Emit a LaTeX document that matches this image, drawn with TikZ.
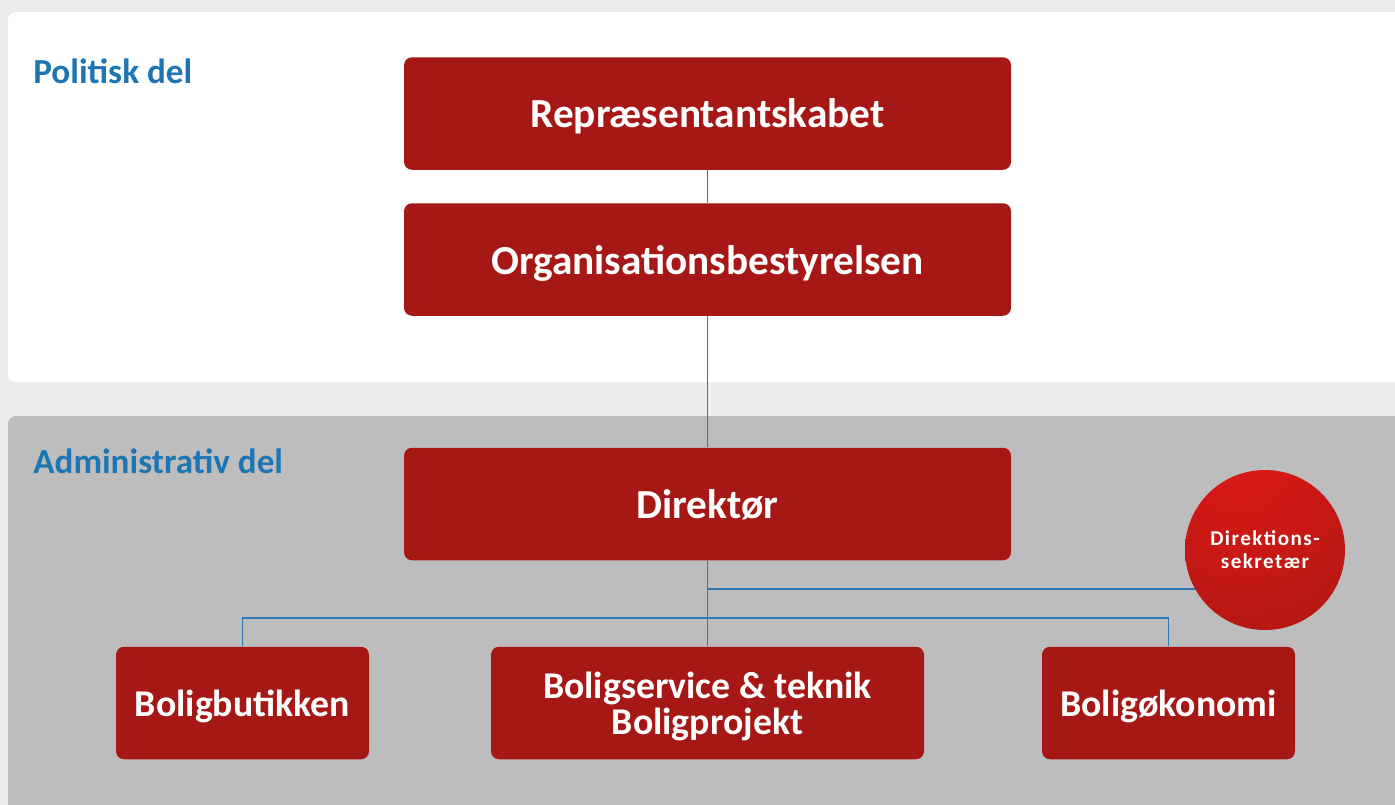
\documentclass[tikz,border=0pt]{standalone}
\usepackage{fontspec}
\setmainfont{Carlito}
\newfontfamily\sekfont{Carlito}[LetterSpace=7]
\definecolor{bggrey}{HTML}{ECECEC}
\definecolor{panelgrey}{HTML}{BDBDBD}
\definecolor{boxred}{HTML}{A51815}
\definecolor{redlight}{HTML}{DE1A17}
\definecolor{redmid}{HTML}{C41814}
\definecolor{delblue}{HTML}{1D76B3}
\definecolor{lineblue}{HTML}{2F78B8}
\pgfdeclareradialshading{sekball}{\pgfpoint{-10bp}{32bp}}{color(0bp)=(redlight); color(30bp)=(redmid); color(62bp)=(boxred); color(100bp)=(boxred)}

\begin{document}
\begin{tikzpicture}[
  box/.style={fill=boxred, rounded corners=.16cm, text=white, align=center, text depth=0pt,
    font=\bfseries\fontsize{23.5}{24}\selectfont, minimum height=2.25cm, inner sep=0pt},
  lowbox/.style={box, font=\bfseries\fontsize{21.5}{20.5}\selectfont},
  lbl/.style={text=delblue, font=\bfseries\fontsize{20}{24}\selectfont, anchor=base west, inner sep=0pt},
  line/.style={draw=lineblue, line width=1pt}]

\path[use as bounding box, fill=bggrey] (0,0) rectangle (27.9,-16.1);
\clip (0,0) rectangle (27.9,-16.1);

% the two panels
\fill[white, rounded corners=.16cm] (0.16,-0.24) rectangle (28.5,-7.64);
\fill[panelgrey, rounded corners=.16cm] (0.16,-8.32) rectangle (28.5,-16.6);

\node (pol) at (0.66,-1.66) [lbl] {Politisk del};
\node (adm) at (0.66,-9.46) [lbl] {Administrativ del};

\node (rep) at (14.15,-2.27) [box, minimum width=12.14cm] {Repræsentantskabet};
\node (org) at (14.15,-5.19) [box, minimum width=12.14cm] {Organisationsbestyrelsen};
\node (dir) at (14.15,-10.08) [box, minimum width=12.14cm] {Direktør};

\node (bb) at (4.85,-14.06) [lowbox, minimum width=5.06cm] {Boligbutikken};
\node (bs) at (14.15,-14.06) [lowbox, minimum width=8.66cm] {Boligservice \& teknik\\Boligprojekt};
\node (bo) at (23.37,-14.06) [lowbox, minimum width=5.06cm] {Boligøkonomi};

\node (sek) at (25.3,-11.0) [circle, shade, shading=sekball, minimum size=3.2cm, inner sep=0pt,
  text=white, align=center, font=\sekfont\bfseries\fontsize{12}{13}\selectfont] {Direktions-\\sekretær};

\coordinate (a) at (14.15,-11.78);
\coordinate (b) at (14.15,-12.36);

\draw[line]
(rep) to (org)
(org) to (dir)
(dir) to (bs)
(a) to (a -| sek.209)
(bb.north) |- (b) -| (bo.north);

\end{tikzpicture}
\end{document}
